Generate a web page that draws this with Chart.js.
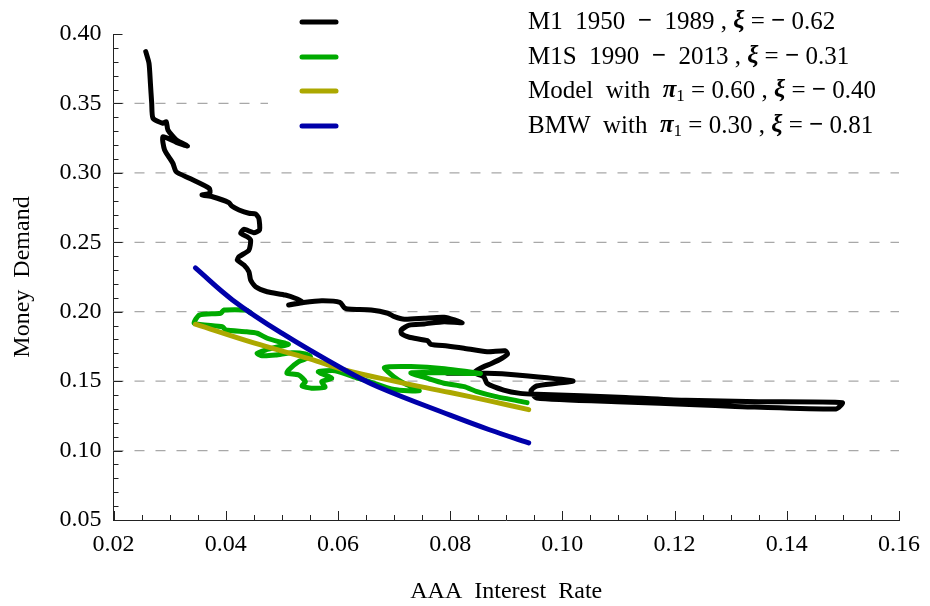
<!DOCTYPE html>
<html><head><meta charset="utf-8">
<script src="https://cdn.jsdelivr.net/npm/chart.js@4.4.1/dist/chart.umd.min.js"></script>
<style>html,body{margin:0;padding:0;background:#fff}</style>
</head><body>
<canvas id="c" width="930" height="606"></canvas>
<script>
// ---- data ----
const m1X = [0.02575,0.02633,0.02658,0.02681,0.02704,0.02881,0.02940,0.02970,0.03120,0.03320,0.03120,0.02880,0.02910,0.03058,0.03118,0.03353,0.03706,0.03718,0.03577,0.03765,0.04060,0.04108,0.04237,0.04414,0.04532,0.04590,0.04603,0.04502,0.04325,0.04267,0.04384,0.04444,0.04414,0.04237,0.04207,0.04325,0.04414,0.04444,0.04532,0.04738,0.05063,0.05240,0.05356,0.05121,0.05386,0.05710,0.06035,0.06124,0.06240,0.06594,0.06889,0.07007,0.07185,0.07538,0.07892,0.08216,0.07892,0.07538,0.07273,0.07125,0.07137,0.07273,0.07597,0.07655,0.07950,0.08246,0.08658,0.08982,0.09024,0.08923,0.08746,0.08540,0.08423,0.08600,0.08658,0.08954,0.09248,0.09540,0.11130,0.12200,0.13500,0.14990,0.14880,0.13080,0.12370,0.11100,0.09540,0.09440,0.09540,0.09900,0.10190,0.09188,0.08658,0.07950];
const m1Y = [0.3873,0.3789,0.3645,0.3501,0.3393,0.3357,0.3368,0.3309,0.3237,0.3193,0.3220,0.3260,0.3165,0.3069,0.3008,0.2961,0.2889,0.2853,0.2841,0.2828,0.2785,0.2761,0.2733,0.2709,0.2704,0.2673,0.2589,0.2569,0.2593,0.2565,0.2540,0.2516,0.2444,0.2396,0.2372,0.2336,0.2288,0.2228,0.2180,0.2144,0.2120,0.2097,0.2072,0.2048,0.2066,0.2079,0.2068,0.2025,0.2017,0.2012,0.1989,0.1964,0.1945,0.1953,0.1960,0.1921,0.1928,0.1912,0.1904,0.1868,0.1840,0.1816,0.1791,0.1765,0.1753,0.1737,0.1712,0.1719,0.1696,0.1665,0.1629,0.1593,0.1561,0.1532,0.1484,0.1436,0.1412,0.1405,0.1383,0.1362,0.1352,0.1345,0.1300,0.1318,0.1330,0.1350,0.1378,0.1430,0.1465,0.1484,0.1501,0.1544,0.1556,0.1556];

const m1sX = [0.0445,0.0436,0.0397,0.0391,0.0353,0.0344,0.0394,0.0400,0.0436,0.0456,0.0474,0.0494,0.0512,0.0494,0.0471,0.0456,0.0465,0.0489,0.0518,0.0542,0.0551,0.0530,0.0512,0.0509,0.0530,0.0542,0.0536,0.0553,0.0577,0.0571,0.0589,0.0577,0.0565,0.0595,0.0636,0.0648,0.0700,0.0745,0.0720,0.0700,0.0683,0.0730,0.0790,0.0854,0.0800,0.0730,0.0760,0.0789,0.0825,0.0848,0.0880,0.0937];
const m1sY = [0.1989,0.2012,0.2012,0.1989,0.1976,0.1917,0.1892,0.1868,0.1856,0.1845,0.1809,0.1784,0.1765,0.1748,0.1724,0.1700,0.1683,0.1688,0.1705,0.1696,0.1676,0.1640,0.1580,0.1556,0.1544,0.1496,0.1465,0.1449,0.1456,0.1496,0.1520,0.1544,0.1568,0.1575,0.1520,0.1508,0.1440,0.1430,0.1480,0.1530,0.1598,0.1605,0.1590,0.1555,0.1560,0.1560,0.1520,0.1485,0.1460,0.1424,0.1390,0.1345];

const modelX = [0.0346,0.0450,0.0550,0.0612,0.0700,0.0800,0.0870,0.0940];
const modelY = [0.1910,0.1775,0.1660,0.1580,0.1500,0.1418,0.1358,0.1295];

const bmwX = [0.0346,0.0412,0.0500,0.0612,0.0671,0.0800,0.0870,0.0940];
const bmwY = [0.2315,0.2085,0.1845,0.1580,0.1460,0.1255,0.1150,0.1055];

const xTickLabels = ['0.02','0.04','0.06','0.08','0.10','0.12','0.14','0.16'];
const yTickLabels = ['0.05','0.10','0.15','0.20','0.25','0.30','0.35','0.40'];
const gridYValues = [0.10,0.15,0.20,0.25,0.30,0.35];

const seriesNames = ['M1 1950-1989','M1S 1990-2013','Model','BMW'];
const seriesColors = ['#000000','#00aa00','#aca800','#0000aa'];
// legend rich text pieces: [text, style]  n=normal b=bold bi=bold italic sub=subscript
const legendTexts = [
  [['M1  1950  ','n'],['\u2212','b'],['  1989 , ','n'],['\u03BE','bi'],[' = ','n'],['\u2212','b'],[' 0.62','n']],
  [['M1S  1990  ','n'],['\u2212','b'],['  2013 , ','n'],['\u03BE','bi'],[' = ','n'],['\u2212','b'],[' 0.31','n']],
  [['Model  with  ','n'],['\u03C0','bi'],['1','sub'],[' = 0.60 , ','n'],['\u03BE','bi'],[' = ','n'],['\u2212','b'],[' 0.40','n']],
  [['BMW  with  ','n'],['\u03C0','bi'],['1','sub'],[' = 0.30 , ','n'],['\u03BE','bi'],[' = ','n'],['\u2212','b'],[' 0.81','n']]
];

const FONT = "'Liberation Serif', 'Times New Roman', serif";
const FS = 24;
const LFS = 25;
const legendBox = {left: 268, top: 0, right: 905, bottom: 148};

function pts(xs, ys){ return xs.map((x,i)=>({x:x, y:ys[i]})); }

const dashGrid = {
  id: 'dashGrid',
  beforeDatasetsDraw(chart){
    const {ctx, chartArea, scales:{y}} = chart;
    ctx.save();
    ctx.strokeStyle = '#a8a8a8'; ctx.lineWidth = 1.3; ctx.setLineDash([10,11]);
    gridYValues.forEach(v=>{
      const py = y.getPixelForValue(v);
      ctx.beginPath(); ctx.moveTo(chartArea.left, py); ctx.lineTo(chartArea.right, py); ctx.stroke();
    });
    ctx.restore();
  },
  afterDraw(chart){
    const {ctx, chartArea, scales:{x,y}} = chart;
    ctx.save();
    ctx.strokeStyle = '#222'; ctx.lineWidth = 1;
    for(let i=0;i<=28;i++){
      const px = Math.round(x.getPixelForValue(0.02 + i*0.005)) + 0.5;
      const len = (i%4===0) ? 9 : 5;
      ctx.beginPath(); ctx.moveTo(px, chartArea.bottom); ctx.lineTo(px, chartArea.bottom - len); ctx.stroke();
    }
    for(let i=0;i<=35;i++){
      const py = Math.round(y.getPixelForValue(0.05 + i*0.01)) + 0.5;
      const len = (i%5===0) ? 9 : 5;
      ctx.beginPath(); ctx.moveTo(chartArea.left, py); ctx.lineTo(chartArea.left + len, py); ctx.stroke();
    }
    ctx.restore();
  }
};

const richLegend = {
  id: 'richLegend',
  afterDatasetsDraw(chart){
    const ctx = chart.ctx;
    ctx.save();
    ctx.fillStyle = '#fff';
    ctx.fillRect(legendBox.left, legendBox.top, legendBox.right-legendBox.left, legendBox.bottom-legendBox.top);
    const rowY = [22, 57, 91, 126];
    legendTexts.forEach((parts, r)=>{
      const yy = rowY[r];
      ctx.strokeStyle = seriesColors[r]; ctx.lineWidth = 5; ctx.lineCap = 'round'; ctx.setLineDash([]);
      ctx.beginPath(); ctx.moveTo(302, yy); ctx.lineTo(336, yy); ctx.stroke();
      let xx = 528;
      ctx.fillStyle = '#000'; ctx.textBaseline = 'middle'; ctx.textAlign = 'left';
      parts.forEach(([t, st])=>{
        let f, dy = 0;
        if(st==='b') f = 'bold '+LFS+'px '+FONT;
        else if(st==='bi') f = 'italic bold '+LFS+'px '+FONT;
        else if(st==='sub'){ f = '17px '+FONT; dy = 6; }
        else f = LFS+'px '+FONT;
        ctx.font = f;
        ctx.fillText(t, xx, yy + dy);
        xx += ctx.measureText(t).width;
      });
    });
    ctx.restore();
  }
};

const base = {showLine:true, pointRadius:0, borderWidth:5, borderCapStyle:'round', borderJoinStyle:'round', fill:false};

new Chart(document.getElementById('c'), {
  type: 'scatter',
  data: {
    datasets: [
      Object.assign({}, base, {label: seriesNames[0], data: pts(m1X,m1Y), borderColor: seriesColors[0], order: 4, tension: 0.2}),
      Object.assign({}, base, {label: seriesNames[1], data: pts(m1sX,m1sY), borderColor: seriesColors[1], order: 3, tension: 0.2}),
      Object.assign({}, base, {label: seriesNames[2], data: pts(modelX,modelY), borderColor: seriesColors[2], order: 2, tension: 0.4}),
      Object.assign({}, base, {label: seriesNames[3], data: pts(bmwX,bmwY), borderColor: seriesColors[3], order: 1, tension: 0.4})
    ]
  },
  options: {
    responsive: false, animation: false, devicePixelRatio: 1,
    layout: {padding: {left: 0, top: 34, right: 25, bottom: 0}},
    plugins: {legend: {display: false}, tooltip: {enabled: false}},
    scales: {
      x: {
        type: 'linear', min: 0.02, max: 0.16,
        afterBuildTicks(s){ s.ticks = xTickLabels.map(t=>({value: parseFloat(t)})); },
        ticks: {callback: (v)=> v.toFixed(2), font: {family: FONT, size: FS}, color: '#000', padding: 10, maxRotation: 0, autoSkip: false},
        grid: {display: false, drawTicks: false},
        border: {display: true, color: '#222', width: 1},
        title: {display: true, text: 'AAA  Interest  Rate', font: {family: FONT, size: FS}, color: '#000', padding: {top: 0, bottom: 0}},
        afterFit(s){ s.height = 86; }
      },
      y: {
        type: 'linear', min: 0.05, max: 0.40,
        afterBuildTicks(s){ s.ticks = yTickLabels.map(t=>({value: parseFloat(t)})); },
        ticks: {callback: (v)=> v.toFixed(2), font: {family: FONT, size: FS}, color: '#000', padding: 12, autoSkip: false},
        grid: {display: false, drawTicks: false},
        border: {display: true, color: '#222', width: 1},
        title: {display: true, text: 'Money  Demand', font: {family: FONT, size: FS}, color: '#000', padding: {top: 8, bottom: 0}},
        afterFit(s){ s.width = 113.5; }
      }
    }
  },
  plugins: [dashGrid, richLegend]
});
</script>
</body></html>
